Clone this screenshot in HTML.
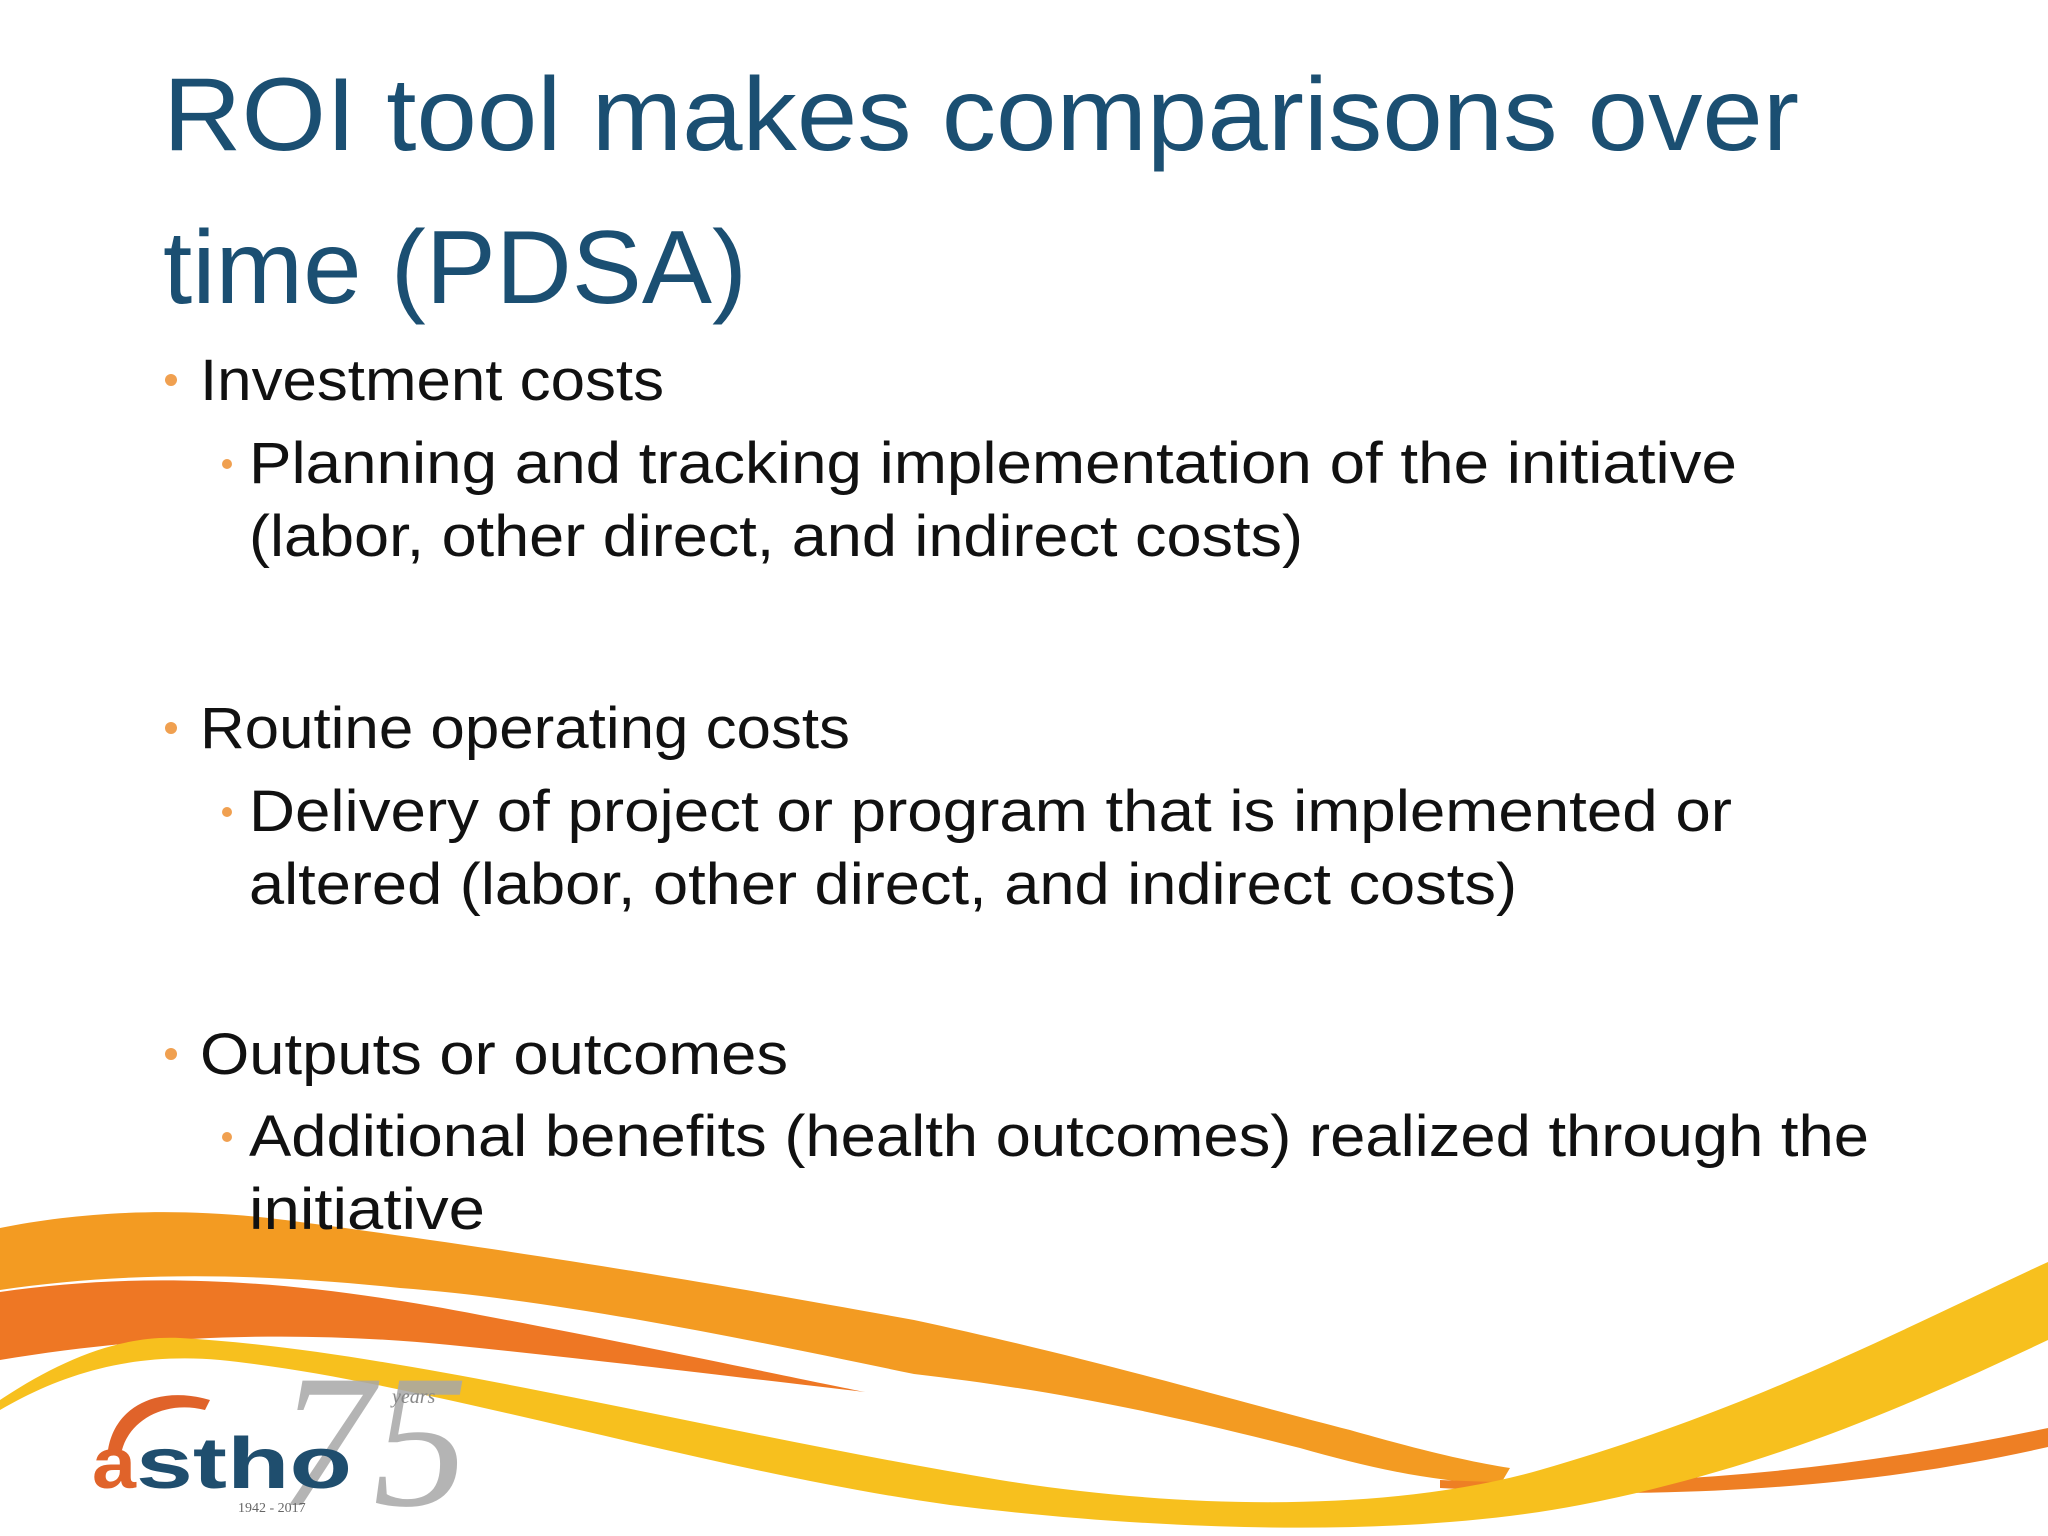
<!DOCTYPE html>
<html><head><meta charset="utf-8"><style>html,body{margin:0;padding:0;background:#fff}svg{display:block}</style></head>
<body>
<svg width="2048" height="1536" viewBox="0 0 2048 1536" xmlns="http://www.w3.org/2000/svg" font-family="'Liberation Sans', sans-serif">
<rect width="2048" height="1536" fill="#fff"/>
<g>
<path d="M0,1228 C80,1212 180,1205 300,1222 C550,1255 750,1290 914,1320 C1100,1360 1250,1405 1350,1430 C1420,1450 1470,1462 1510,1468 L1500,1485 C1420,1480 1360,1465 1300,1448 C1150,1410 1050,1390 914,1374 C750,1340 560,1300 400,1288 C250,1272 120,1272 0,1290 Z" fill="#f39b22"/>
<path d="M0,1292 C150,1270 300,1280 480,1315 C640,1345 780,1375 865,1392 C760,1380 600,1360 450,1345 C300,1330 150,1335 0,1360 Z" fill="#ee7724"/>
<path d="M1440,1480 C1650,1490 1850,1470 2048,1428 L2048,1447 C1850,1492 1650,1500 1440,1488 Z" fill="#ee7f24"/>
<path d="M0,1400 C60,1360 120,1335 180,1338 C400,1350 700,1430 1000,1480 C1200,1512 1400,1510 1540,1470 C1750,1410 1900,1330 2048,1262 L2048,1340 C1900,1410 1760,1470 1580,1505 C1400,1540 1150,1530 950,1505 C700,1470 420,1380 220,1360 C130,1352 60,1375 0,1410 Z" fill="#f7c01e"/>
</g>
<g>
<text x="278" y="1505" font-family="'Liberation Serif', serif" font-style="italic" font-size="190" fill="#a8a8a8" opacity="0.85">75</text>
<path d="M108,1450 C115,1405 160,1385 210,1400 L205,1410 C165,1400 130,1420 122,1450 Z" fill="#e0632a"/>
<text x="92" y="1488" font-weight="bold" font-size="72" fill="#e0632a" textLength="44" lengthAdjust="spacingAndGlyphs">a</text>
<text x="136" y="1488" font-weight="bold" font-size="72" fill="#1f4e6e" textLength="216" lengthAdjust="spacingAndGlyphs">stho</text>
<text x="392" y="1403" font-family="'Liberation Serif', serif" font-style="italic" font-size="20" fill="#888">years</text>
<text x="238" y="1512" font-family="'Liberation Serif', serif" font-size="14" fill="#666">1942 - 2017</text>
</g>
<g fill="#1b4f72" font-size="104">
<text x="163" y="150" textLength="1636" lengthAdjust="spacingAndGlyphs">ROI tool makes comparisons over</text>
<text x="163" y="303" textLength="584" lengthAdjust="spacingAndGlyphs">time (PDSA)</text>
</g>
<g fill="#111" font-size="58">
<circle cx="171" cy="380" r="6" fill="#f0a050"/>
<text x="200" y="400" textLength="464" lengthAdjust="spacingAndGlyphs">Investment costs</text>
<circle cx="227" cy="464" r="5" fill="#f0a050"/>
<text x="249" y="483" textLength="1488" lengthAdjust="spacingAndGlyphs">Planning and tracking implementation of the initiative</text>
<text x="249" y="556" textLength="1054" lengthAdjust="spacingAndGlyphs">(labor, other direct, and indirect costs)</text>
<circle cx="171" cy="728" r="6" fill="#f0a050"/>
<text x="200" y="748" textLength="650" lengthAdjust="spacingAndGlyphs">Routine operating costs</text>
<circle cx="227" cy="812" r="5" fill="#f0a050"/>
<text x="249" y="831" textLength="1483" lengthAdjust="spacingAndGlyphs">Delivery of project or program that is implemented or</text>
<text x="249" y="904" textLength="1268" lengthAdjust="spacingAndGlyphs">altered (labor, other direct, and indirect costs)</text>
<circle cx="171" cy="1054" r="6" fill="#f0a050"/>
<text x="200" y="1074" textLength="588" lengthAdjust="spacingAndGlyphs">Outputs or outcomes</text>
<circle cx="227" cy="1137" r="5" fill="#f0a050"/>
<text x="249" y="1156" textLength="1620" lengthAdjust="spacingAndGlyphs">Additional benefits (health outcomes) realized through the</text>
<text x="249" y="1229" textLength="236" lengthAdjust="spacingAndGlyphs">initiative</text>
</g>
</svg>
</body></html>
